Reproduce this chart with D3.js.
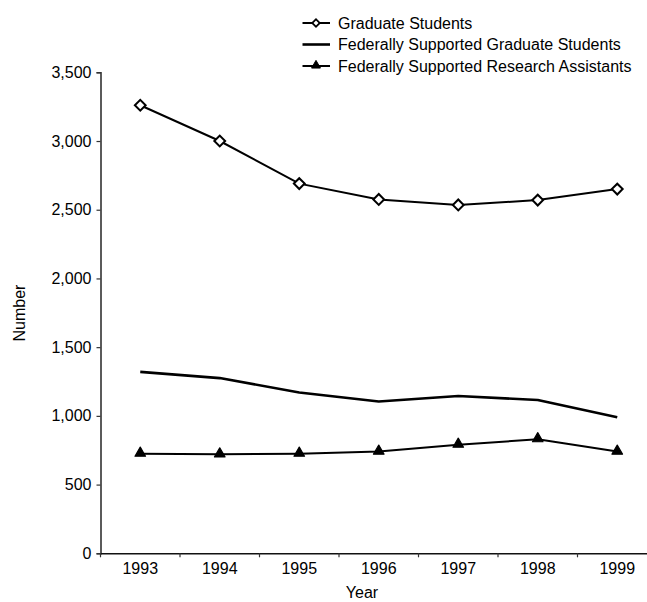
<!DOCTYPE html>
<html>
<head>
<meta charset="utf-8">
<script src="https://cdn.jsdelivr.net/npm/d3@7"></script>
<style>
  html, body { margin: 0; padding: 0; background: #fff; }
  svg text { font-family: "Liberation Sans", Arial, sans-serif; fill: #000; }
</style>
</head>
<body>
<svg id="chart" width="647" height="602"></svg>
<script>
const years = ["1993", "1994", "1995", "1996", "1997", "1998", "1999"];
const graduateStudents = [3260, 3000, 2690, 2575, 2535, 2570, 2650];
const fedGradStudents = [1320, 1275, 1170, 1105, 1145, 1115, 990];
const fedResearchAssistants = [725, 720, 725, 740, 790, 830, 740];
const yTicks = [0, 500, 1000, 1500, 2000, 2500, 3000, 3500];
const seriesNames = ["Graduate Students", "Federally Supported Graduate Students", "Federally Supported Research Assistants"];

const svg = d3.select("#chart");
const fontSize = 16;

const x = d3.scaleBand().domain(years).range([100.5, 657]).padding(0);
const y = d3.scaleLinear().domain([0, 3500]).range([553.3, 72.3]);

// axes
const yAxis = svg.append("g").attr("transform", "translate(100.5,0)")
  .call(d3.axisLeft(y).tickValues(yTicks).tickFormat(d3.format(",")).tickSizeOuter(0).tickSize(4).tickPadding(5));
yAxis.select(".domain").attr("stroke", "#333").attr("stroke-width", 1.6);
yAxis.selectAll(".tick line").attr("stroke", "#333").attr("stroke-width", 1.2);
yAxis.selectAll("text").style("font-size", fontSize + "px").attr("fill", "#000");

const xAxis = svg.append("g").attr("transform", "translate(0,553.3)")
  .call(d3.axisBottom(x).tickSize(0).tickPadding(9).tickSizeOuter(0));
xAxis.select(".domain").attr("stroke", "#111").attr("stroke-width", 1.6);
xAxis.selectAll("text").style("font-size", fontSize + "px").attr("fill", "#000");
// tick marks at band boundaries
const boundaries = years.slice(1).map(d => x(d));
xAxis.selectAll(".bound").data([x(years[0])].concat(boundaries)).enter().append("line")
  .attr("class", "bound")
  .attr("x1", d => d).attr("x2", d => d).attr("y1", 0).attr("y2", 4)
  .attr("stroke", "#333").attr("stroke-width", 1.2);

// axis titles
svg.append("text").attr("x", 362).attr("y", 598).attr("text-anchor", "middle")
  .style("font-size", fontSize + "px").text("Year");
svg.append("text").attr("transform", "translate(25,313) rotate(-90)").attr("text-anchor", "middle")
  .style("font-size", fontSize + "px").text("Number");

const cx = (d, i) => x(years[i]) + x.bandwidth() / 2;
const line = d3.line().x((d, i) => cx(d, i)).y(d => y(d));

// Federally supported grad students (no markers)
svg.append("path").datum(fedGradStudents).attr("d", line)
  .attr("fill", "none").attr("stroke", "#000").attr("stroke-width", 2.6).attr("stroke-linejoin", "round");

// Research assistants
svg.append("path").datum(fedResearchAssistants).attr("d", line)
  .attr("fill", "none").attr("stroke", "#000").attr("stroke-width", 2);
const tri = d3.symbol().type(d3.symbolTriangle).size(48);
svg.selectAll(".tri").data(fedResearchAssistants).enter().append("path")
  .attr("class", "tri")
  .attr("d", tri)
  .attr("transform", (d, i) => `translate(${cx(d, i)},${y(d) - 0.5})`)
  .attr("fill", "#000").attr("stroke", "#000").attr("stroke-width", 1.2).attr("stroke-linejoin", "round");

// Graduate students
svg.append("path").datum(graduateStudents).attr("d", line)
  .attr("fill", "none").attr("stroke", "#000").attr("stroke-width", 2);
const sq = d3.symbol().type(d3.symbolSquare).size(58);
svg.selectAll(".dia").data(graduateStudents).enter().append("path")
  .attr("class", "dia")
  .attr("d", sq)
  .attr("transform", (d, i) => `translate(${cx(d, i)},${y(d)}) rotate(45)`)
  .attr("fill", "#fff").attr("stroke", "#000").attr("stroke-width", 2);

// legend
const legend = svg.append("g");
const rowsY = [23, 44.5, 66];
seriesNames.forEach((name, i) => {
  const g = legend.append("g").attr("transform", `translate(0,${rowsY[i]})`);
  g.append("line").attr("x1", 302.5).attr("x2", 330).attr("y1", 0).attr("y2", 0)
    .attr("stroke", "#000").attr("stroke-width", i === 1 ? 2.6 : 2);
  if (i === 0) {
    g.append("path").attr("d", d3.symbol().type(d3.symbolSquare).size(28)())
      .attr("transform", "translate(316,0) rotate(45)")
      .attr("fill", "#fff").attr("stroke", "#000").attr("stroke-width", 1.8);
  } else if (i === 2) {
    g.append("path").attr("d", d3.symbol().type(d3.symbolTriangle).size(34)())
      .attr("transform", "translate(316,-0.5)")
      .attr("fill", "#000").attr("stroke", "#000").attr("stroke-width", 1).attr("stroke-linejoin", "round");
  }
  g.append("text").attr("x", 338).attr("y", 0).attr("dy", "0.35em")
    .style("font-size", fontSize + "px").text(name);
});
</script>
</body>
</html>
